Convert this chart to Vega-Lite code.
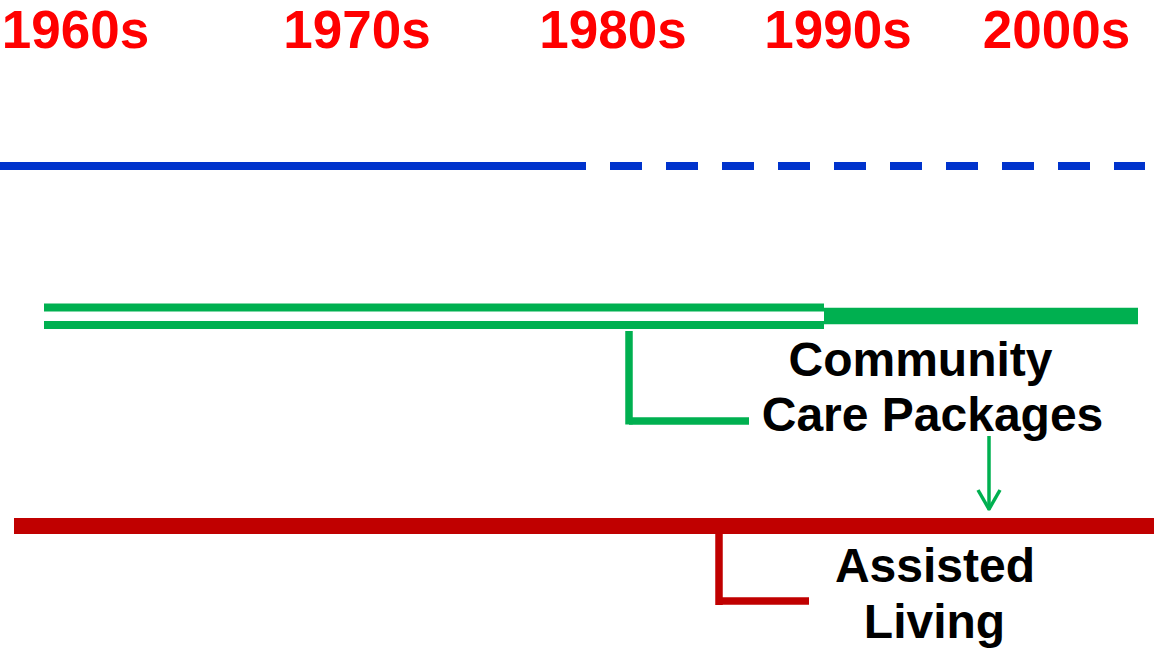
{
  "$schema": "https://vega.github.io/schema/vega-lite/v6.json",
  "width": 1163,
  "height": 650,
  "autosize": {"type": "none"},
  "padding": 0,
  "background": "white",
  "config": {"view": {"stroke": null}},
  "datasets": {
    "decades": [
      {"label": "1960s", "x": 75.5, "y": 48},
      {"label": "1970s", "x": 357, "y": 48},
      {"label": "1980s", "x": 613, "y": 48},
      {"label": "1990s", "x": 838, "y": 48},
      {"label": "2000s", "x": 1056.5, "y": 48}
    ],
    "captions": [
      {"text": "Community", "x": 920.5, "y": 376},
      {"text": "Care Packages", "x": 932.5, "y": 431},
      {"text": "Assisted", "x": 935, "y": 582},
      {"text": "Living", "x": 934.5, "y": 638}
    ],
    "blueSolid": [{"x": 0, "x2": 554, "y": 166, "y2": 166}],
    "blueDashed": [{"x": 554, "x2": 1145, "y": 166, "y2": 166}],
    "greenThin": [
      {"x": 44, "x2": 824, "y": 307.5, "y2": 307.5},
      {"x": 44, "x2": 824, "y": 325, "y2": 325}
    ],
    "greenThick": [{"x": 824, "x2": 1138, "y": 316, "y2": 316}],
    "greenBracket": [
      {"x": 629, "x2": 629, "y": 331, "y2": 424.5},
      {"x": 629, "x2": 749, "y": 421, "y2": 421}
    ],
    "greenArrow": [
      {"x": 989, "x2": 989, "y": 436, "y2": 508},
      {"x": 978, "x2": 989.5, "y": 490, "y2": 510},
      {"x": 1000, "x2": 988.5, "y": 490, "y2": 510}
    ],
    "redLine": [{"x": 14, "x2": 1154, "y": 526, "y2": 526}],
    "redBracket": [
      {"x": 719, "x2": 719, "y": 533, "y2": 605},
      {"x": 719, "x2": 809, "y": 601, "y2": 601}
    ]
  },
  "encoding": {
    "x": {"field": "x", "type": "quantitative", "scale": {"domain": [0, 1163], "nice": false, "zero": false}, "axis": null},
    "y": {"field": "y", "type": "quantitative", "scale": {"domain": [0, 650], "nice": false, "zero": false, "reverse": true}, "axis": null}
  },
  "layer": [
    {
      "data": {"name": "blueSolid"},
      "mark": {"type": "rule", "color": "#0033CC", "strokeWidth": 8},
      "encoding": {"x2": {"field": "x2"}, "y2": {"field": "y2"}}
    },
    {
      "data": {"name": "blueDashed"},
      "mark": {"type": "rule", "color": "#0033CC", "strokeWidth": 8, "strokeDash": [32, 24]},
      "encoding": {"x2": {"field": "x2"}, "y2": {"field": "y2"}}
    },
    {
      "data": {"name": "greenThin"},
      "mark": {"type": "rule", "color": "#00B050", "strokeWidth": 8},
      "encoding": {"x2": {"field": "x2"}, "y2": {"field": "y2"}}
    },
    {
      "data": {"name": "greenThick"},
      "mark": {"type": "rule", "color": "#00B050", "strokeWidth": 16.5},
      "encoding": {"x2": {"field": "x2"}, "y2": {"field": "y2"}}
    },
    {
      "data": {"name": "greenBracket"},
      "mark": {"type": "rule", "color": "#00B050", "strokeWidth": 7.5},
      "encoding": {"x2": {"field": "x2"}, "y2": {"field": "y2"}}
    },
    {
      "data": {"name": "greenArrow"},
      "mark": {"type": "rule", "color": "#00B050", "strokeWidth": 3.5},
      "encoding": {"x2": {"field": "x2"}, "y2": {"field": "y2"}}
    },
    {
      "data": {"name": "redLine"},
      "mark": {"type": "rule", "color": "#C00000", "strokeWidth": 16},
      "encoding": {"x2": {"field": "x2"}, "y2": {"field": "y2"}}
    },
    {
      "data": {"name": "redBracket"},
      "mark": {"type": "rule", "color": "#C00000", "strokeWidth": 7.5},
      "encoding": {"x2": {"field": "x2"}, "y2": {"field": "y2"}}
    },
    {
      "data": {"name": "decades"},
      "mark": {"type": "text", "color": "#FF0000", "font": "Liberation Sans", "fontWeight": "bold", "fontSize": 53, "align": "center", "baseline": "alphabetic"},
      "encoding": {"text": {"field": "label"}}
    },
    {
      "data": {"name": "captions"},
      "mark": {"type": "text", "color": "#000000", "font": "Liberation Sans", "fontWeight": "bold", "fontSize": 48, "align": "center", "baseline": "alphabetic"},
      "encoding": {"text": {"field": "text"}}
    }
  ]
}
